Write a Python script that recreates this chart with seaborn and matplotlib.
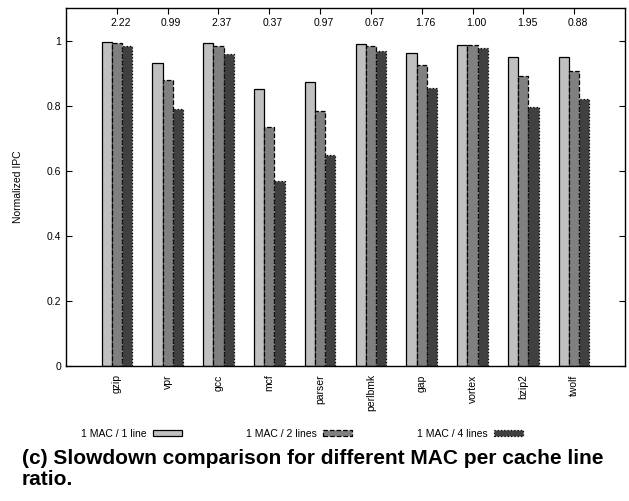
import matplotlib
matplotlib.use("Agg")
import matplotlib.pyplot as plt
import seaborn as sns
import pandas as pd
import numpy as np

benchmarks = ["gzip", "vpr", "gcc", "mcf", "parser", "perlbmk", "gap", "vortex", "bzip2", "twolf"]
top_labels = ["2.22", "0.99", "2.37", "0.37", "0.97", "0.67", "1.76", "1.00", "1.95", "0.88"]
series_names = ["1 MAC / 1 line", "1 MAC / 2 lines", "1 MAC / 4 lines"]
ipc_1line = [0.996, 0.930, 0.993, 0.851, 0.872, 0.990, 0.962, 0.986, 0.948, 0.950]
ipc_2lines = [0.992, 0.880, 0.982, 0.735, 0.785, 0.983, 0.925, 0.985, 0.892, 0.905]
ipc_4lines = [0.982, 0.791, 0.959, 0.567, 0.649, 0.969, 0.853, 0.978, 0.797, 0.819]

df = pd.DataFrame({
    "bench": benchmarks * 3,
    "series": [series_names[0]] * 10 + [series_names[1]] * 10 + [series_names[2]] * 10,
    "ipc": ipc_1line + ipc_2lines + ipc_4lines,
})

sns.set_theme(style="ticks")
plt.rcParams["font.family"] = ["Liberation Sans", "DejaVu Sans"]
plt.rcParams["text.color"] = "black"
plt.rcParams["axes.labelcolor"] = "black"
plt.rcParams["xtick.color"] = "black"
plt.rcParams["ytick.color"] = "black"

fig = plt.figure(figsize=(6.29, 5.01), dpi=100)
ax = fig.add_axes([66 / 629, 1 - 366 / 501, (625 - 66) / 629, (366 - 8) / 501])

colors = ["#c0c0c0", "#808080", "#404040"]
sns.barplot(data=df, x="bench", y="ipc", hue="series", order=benchmarks,
            hue_order=series_names, palette=colors, width=0.6, ax=ax,
            saturation=1, legend=False, errorbar=None)

styles = ["-", "--", ":"]
for cont, ls in zip(ax.containers, styles):
    for p in cont.patches:
        p.set_edgecolor("black")
        p.set_linewidth(0.9)
        p.set_linestyle(ls)

ax.set_xlim(-1, 10)
ax.set_ylim(0, 1.1)
ax.set_yticks([0, 0.2, 0.4, 0.6, 0.8, 1.0])
ax.set_yticklabels(["0", "0.2", "0.4", "0.6", "0.8", "1"], fontsize=7.5)
ax.set_xticks(range(len(benchmarks)))
ax.set_xticklabels(benchmarks, rotation=90, fontsize=7.5)
ax.set_xlabel("")
ax.set_ylabel("Normalized IPC", fontsize=7.5, labelpad=17)
ax.tick_params(axis="both", direction="in", length=4, width=0.8, top=True, right=True, colors="black")
ax.tick_params(axis="x", pad=6)
for s in ax.spines.values():
    s.set_visible(True)
    s.set_linewidth(1.0)
    s.set_color("black")

for i, lab in enumerate(top_labels):
    ax.text(i + 0.07, 1.055, lab, ha="center", va="center", fontsize=7.5)

handles = list(ax.containers)
leg = ax.legend(handles, series_names, ncol=3, loc="center", bbox_to_anchor=(0.422, -0.19),
                frameon=False, markerfirst=False, fontsize=7.5, handlelength=2.8,
                handleheight=0.5, columnspacing=6.15, handletextpad=0.6)

fig.text(22 / 629, 1 - 469 / 501, "(c) Slowdown comparison for different MAC per cache line\nratio.",
         fontsize=15, fontweight="bold", ha="left", va="center", linespacing=1.1, color="black")

fig.savefig("out.png", dpi=100)
